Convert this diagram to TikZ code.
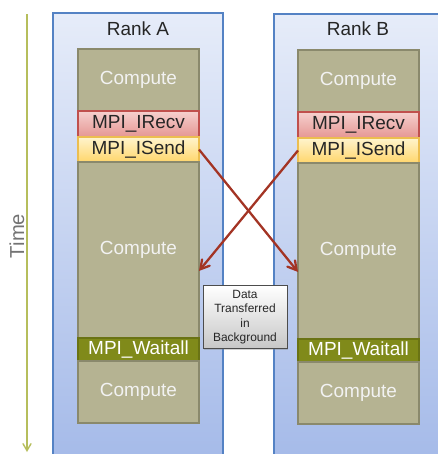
\documentclass[tikz,border=0pt]{standalone}
\usepackage{fontspec}
\setmainfont{Liberation Sans}
\usepackage{tikz}
\usetikzlibrary{arrows, positioning, calc, shadows}

\definecolor{panelTop}{RGB}{230,236,249}
\definecolor{panelBot}{RGB}{166,187,233}
\definecolor{panelEdge}{RGB}{84,130,196}
\definecolor{cmpFill}{RGB}{181,179,146}
\definecolor{cmpEdge}{RGB}{138,137,108}
\definecolor{rcvTop}{RGB}{246,208,206}
\definecolor{rcvBot}{RGB}{229,150,147}
\definecolor{rcvEdge}{RGB}{192,80,77}
\definecolor{sndTop}{RGB}{255,244,205}
\definecolor{sndBot}{RGB}{255,214,108}
\definecolor{sndEdge}{RGB}{236,190,80}
\definecolor{waitFill}{RGB}{128,138,26}
\definecolor{waitEdge}{RGB}{106,115,20}
\definecolor{msgRed}{RGB}{163,52,36}
\definecolor{timeLine}{RGB}{182,190,92}

\begin{document}
\begin{tikzpicture}[x=0.02cm, y=-0.02cm, >=angle 60,
    txt/.style={font=\fontsize{10.8}{12}\selectfont},
    cell/.style={txt, minimum width=2.42cm, inner sep=0pt, outer sep=0pt, line width=0.8pt},
    cmp/.style={cell, fill=cmpFill, draw=cmpEdge, text=white!95!black},
    recv/.style={cell, top color=rcvTop, bottom color=rcvBot, draw=rcvEdge, minimum height=0.52cm, text=black!85},
    send/.style={cell, top color=sndTop, bottom color=sndBot, draw=sndEdge, minimum height=0.5cm, text=black!85},
    wait/.style={cell, fill=waitFill, draw=waitEdge, minimum height=0.46cm, text=white},
    msg/.style={->, msgRed, line width=1.3pt}]
\useasboundingbox (0,0) rectangle (438,454);

% Panels for the two ranks
\fill[top color=panelTop, bottom color=panelBot] (53,13) rectangle (223,454);
\draw[panelEdge, line width=0.6pt] (53,454) |- (223,13) -- (223,454);
\fill[top color=panelTop, bottom color=panelBot] (274,14) rectangle (440,454);
\draw[panelEdge, line width=0.6pt] (274,454) |- (440,14);
\node[txt, text=black!85] (rankA) at (138,29) {Rank A};
\node[txt, text=black!85] (rankB) at (358,29) {Rank B};

% Time axis
\coordinate (t0) at (27,14);
\coordinate (t1) at (27,452);
\draw[->, timeLine, line width=0.8pt] (t0) -- (t1);
\node[txt, rotate=90, text=black!55, font=\fontsize{11.5}{13}\selectfont] (time) at (17,236) {Time};

% Rank A column
\node[cmp, minimum height=1.24cm, anchor=north west] (cmpA1) at (78,49) {Compute};
\node[recv, below=0pt of cmpA1] (rcvA) {MPI\_IRecv};
\node[send, below=0pt of rcvA] (sndA) {MPI\_ISend};
\node[cmp, minimum height=3.52cm, below=0pt of sndA] (cmpA2) {Compute};
\node[wait, below=0pt of cmpA2] (waitA) {MPI\_Waitall};
\node[cmp, minimum height=1.24cm, below=0pt of waitA] (cmpA3) {Compute};

% Rank B column
\node[cmp, minimum height=1.24cm, anchor=north west] (cmpB1) at (298,50) {Compute};
\node[recv, below=0pt of cmpB1] (rcvB) {MPI\_IRecv};
\node[send, below=0pt of rcvB] (sndB) {MPI\_ISend};
\node[cmp, minimum height=3.52cm, below=0pt of sndB] (cmpB2) {Compute};
\node[wait, below=0pt of cmpB2] (waitB) {MPI\_Waitall};
\node[cmp, minimum height=1.24cm, below=0pt of waitB] (cmpB3) {Compute};

% Messages crossing between the ranks
\draw[msg] (sndA.east) -- ([yshift=-0.42cm]cmpB2.west);
\draw[msg] (sndB.west) -- ([yshift=-0.42cm]cmpA2.east);

% Background transfer note
\node[draw=black!70, top color=white, bottom color=black!22, drop shadow={opacity=0.35, shadow xshift=0.6pt, shadow yshift=-0.6pt},
      minimum width=1.68cm, minimum height=1.26cm, inner sep=0pt, align=center,
      font=\fontsize{6.8}{8.3}\selectfont, text=black!85] (note) at (245,317)
      {Data\\Transferred\\in\\Background};
\end{tikzpicture}
\end{document}
